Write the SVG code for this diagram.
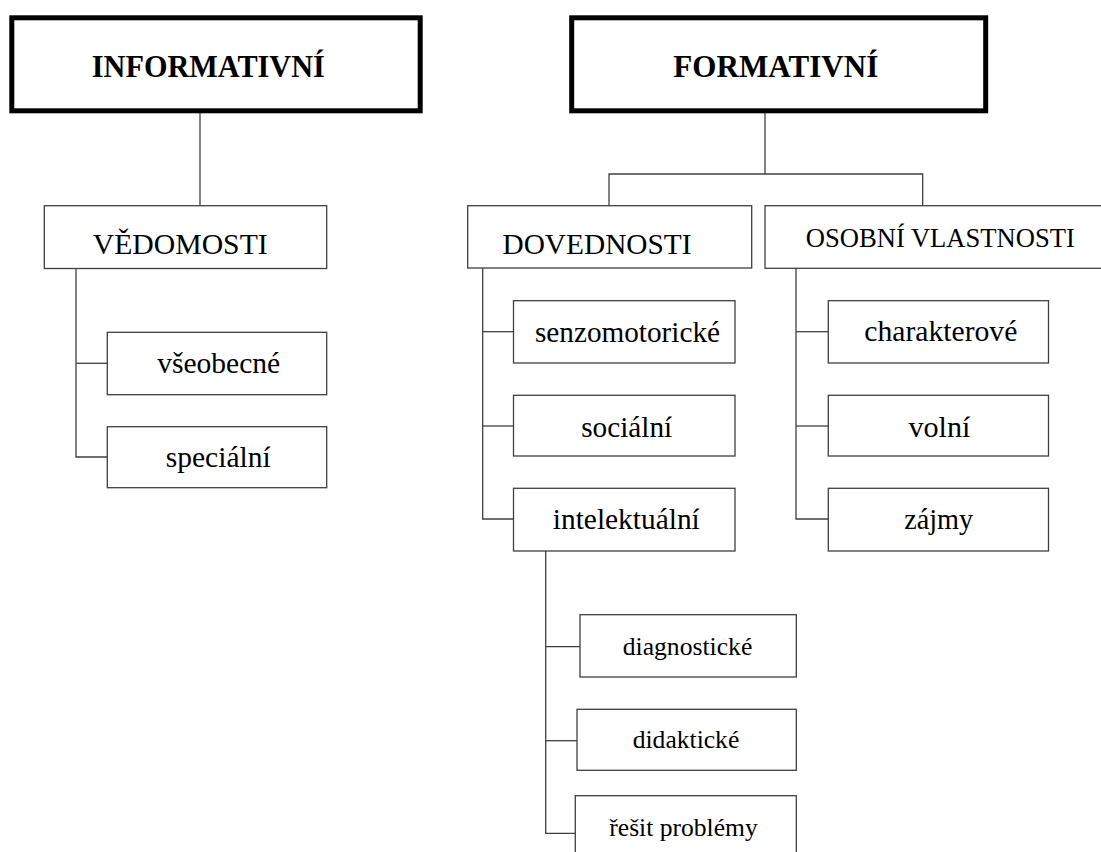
<svg xmlns="http://www.w3.org/2000/svg" width="1101" height="852" viewBox="0 0 1101 852">
<style>
.bg{fill:#ffffff}
.thick{fill:#ffffff;stroke:#000000;stroke-width:5}
.box{fill:#ffffff;stroke:#404040;stroke-width:1.3}
.ln{fill:none;stroke:#404040;stroke-width:1.3}
text{font-family:"Liberation Serif","Times New Roman",Times,"DejaVu Serif","Noto Serif",serif;fill:#000000;text-anchor:middle}
.hb{font-size:32px;font-weight:bold}
.up{font-size:30px}
.lo{font-size:29.5px}
.sm{font-size:25.6px}
</style>
<rect class="bg" x="0" y="0" width="1101" height="852"/>
<g id="connectors">
<line class="ln" x1="200" y1="113" x2="200" y2="206"/>
<polyline class="ln" points="76,268 76,457 107,457"/>
<line class="ln" x1="76" y1="363.3" x2="107" y2="363.3"/>
<line class="ln" x1="765" y1="113" x2="765" y2="174"/>
<polyline class="ln" points="609,206 609,174 922.7,174 922.7,206"/>
<polyline class="ln" points="482.7,268 482.7,519 514,519"/>
<line class="ln" x1="482.7" y1="331.7" x2="514" y2="331.7"/>
<line class="ln" x1="482.7" y1="426" x2="514" y2="426"/>
<polyline class="ln" points="796,268 796,519 828,519"/>
<line class="ln" x1="796" y1="331.7" x2="828" y2="331.7"/>
<line class="ln" x1="796" y1="426" x2="828" y2="426"/>
<polyline class="ln" points="545.7,551 545.7,833.3 575.3,833.3"/>
<line class="ln" x1="545.7" y1="646.7" x2="580" y2="646.7"/>
<line class="ln" x1="545.7" y1="740.7" x2="577" y2="740.7"/>
</g>
<g id="informativni">
<rect class="thick" x="11.8" y="17.8" width="408.4" height="93"/>
<text class="hb" x="208.3" y="77" textLength="233" lengthAdjust="spacingAndGlyphs">INFORMATIVNÍ</text>
</g>
<g id="formativni">
<rect class="thick" x="571.7" y="17.8" width="414" height="93"/>
<text class="hb" x="775.8" y="76.5" textLength="205" lengthAdjust="spacingAndGlyphs">FORMATIVNÍ</text>
</g>
<g id="vedomosti">
<rect class="box" x="44.3" y="205.7" width="282.4" height="62.8"/>
<text class="up" x="180.2" y="254" textLength="175" lengthAdjust="spacingAndGlyphs">VĚDOMOSTI</text>
</g>
<g id="vseobecne">
<rect class="box" x="107.3" y="332.3" width="219.4" height="62.4"/>
<text class="lo" x="218.7" y="373.3" textLength="123" lengthAdjust="spacingAndGlyphs">všeobecné</text>
</g>
<g id="specialni">
<rect class="box" x="107.3" y="426.7" width="219.4" height="61"/>
<text class="lo" x="218.2" y="467.3" textLength="105" lengthAdjust="spacingAndGlyphs">speciální</text>
</g>
<g id="dovednosti">
<rect class="box" x="467.7" y="205.7" width="284" height="62.3"/>
<text class="up" x="597" y="254" textLength="189" lengthAdjust="spacingAndGlyphs">DOVEDNOSTI</text>
</g>
<g id="osobni-vlastnosti">
<rect class="box" x="765" y="205.7" width="345" height="62.6"/>
<text class="up" x="940.3" y="246.7" style="font-size:28px" textLength="269" lengthAdjust="spacingAndGlyphs">OSOBNÍ VLASTNOSTI</text>
</g>
<g id="senzomotoricke">
<rect class="box" x="513.5" y="300.7" width="221.5" height="62.3"/>
<text class="lo" x="627.5" y="341.7" textLength="185" lengthAdjust="spacingAndGlyphs">senzomotorické</text>
</g>
<g id="socialni">
<rect class="box" x="513.5" y="395.3" width="221.5" height="60.7"/>
<text class="lo" x="626.7" y="436.7" textLength="91" lengthAdjust="spacingAndGlyphs">sociální</text>
</g>
<g id="intelektualni">
<rect class="box" x="513.5" y="488.3" width="221.5" height="62.7"/>
<text class="lo" x="626.3" y="529.3" textLength="147" lengthAdjust="spacingAndGlyphs">intelektuální</text>
</g>
<g id="charakterove">
<rect class="box" x="828.3" y="300.7" width="220.2" height="62.3"/>
<text class="lo" x="940.8" y="341.2" textLength="153" lengthAdjust="spacingAndGlyphs">charakterové</text>
</g>
<g id="volni">
<rect class="box" x="828.3" y="395.3" width="220.2" height="60.7"/>
<text class="lo" x="939.4" y="436.7" textLength="62" lengthAdjust="spacingAndGlyphs">volní</text>
</g>
<g id="zajmy">
<rect class="box" x="828.3" y="488.3" width="220.2" height="62.7"/>
<text class="lo" x="938.7" y="529.3" textLength="69" lengthAdjust="spacingAndGlyphs">zájmy</text>
</g>
<g id="diagnosticke">
<rect class="box" x="580" y="614.7" width="216.3" height="62.3"/>
<text class="sm" x="687.5" y="655" textLength="129.6" lengthAdjust="spacingAndGlyphs">diagnostické</text>
</g>
<g id="didakticke">
<rect class="box" x="577" y="709.3" width="219.3" height="61"/>
<text class="sm" x="686" y="748.3" textLength="106.6" lengthAdjust="spacingAndGlyphs">didaktické</text>
</g>
<g id="resit-problemy">
<rect class="box" x="575.3" y="795.7" width="221" height="70"/>
<text class="sm" x="683.5" y="836" textLength="148.4" lengthAdjust="spacingAndGlyphs">řešit problémy</text>
</g>
</svg>
